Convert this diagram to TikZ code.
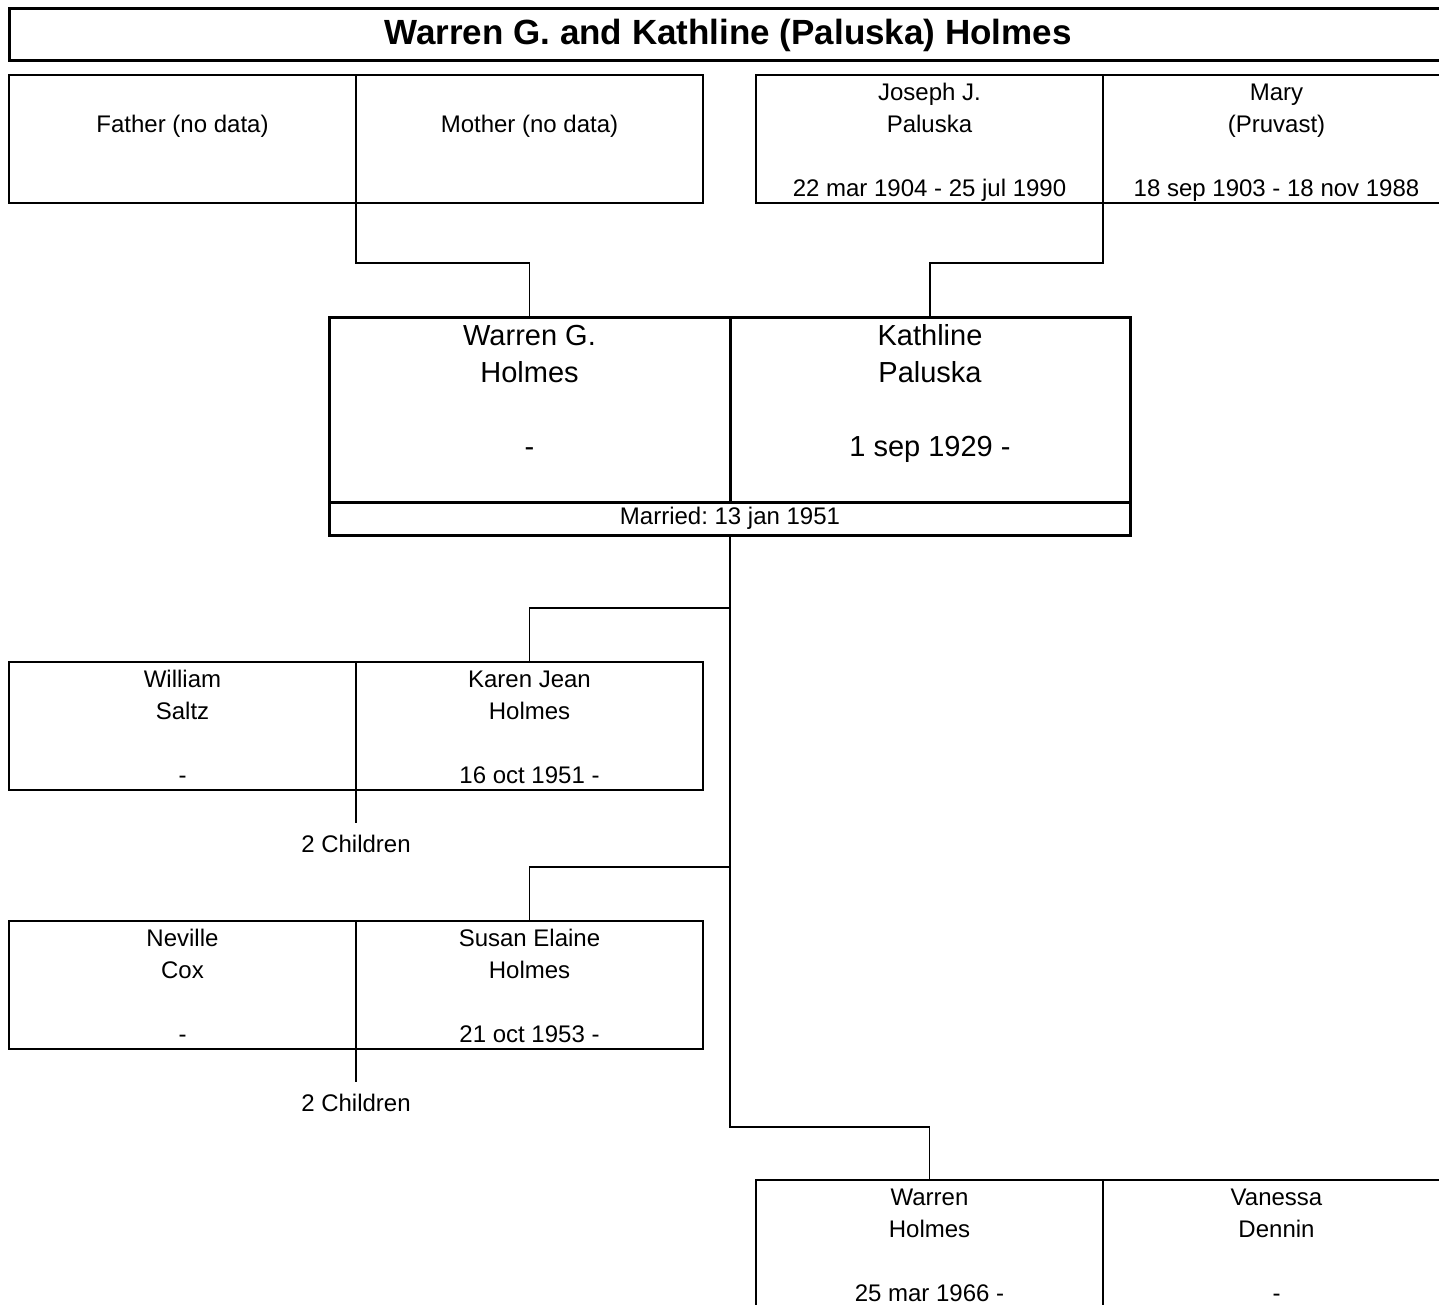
\documentclass[tikz,border=0pt]{standalone}
\usepackage{fontspec}
\setmainfont{Liberation Sans}
\usetikzlibrary{positioning}
\frenchspacing
\newcommand\upstrut{\rule[-.3\baselineskip]{0pt}{\dimexpr\baselineskip+1.5pt\relax}}
\newcommand\dnstrut{\rule[\dimexpr-.3\baselineskip+1.5pt\relax]{0pt}{\dimexpr\baselineskip-1.5pt\relax}}
\newcommand\who[3]{\upstrut#1\\\strut#2\\\strut\\\dnstrut#3}
\newcommand\whobig[3]{\upstrut#1\\\strut#2\\\strut\\\strut#3\\\dnstrut}
\begin{document}
\begin{tikzpicture}[x=0.5pt,y=-0.5pt,every node/.style={align=center,inner sep=0pt,outer sep=0pt},
person/.style={draw,line width=0.75pt,minimum width=173.5pt,minimum height=64pt,font=\fontsize{12}{16}\selectfont},
spouse/.style={draw,line width=1.5pt,minimum height=92.5pt,font=\fontsize{14.5}{18.5}\selectfont},
link/.style={line width=0.75pt},
kids/.style={below=6pt,font=\fontsize{12}{16}\selectfont}]
\useasboundingbox (0,0) rectangle (1439,1305);
\node[draw,line width=1.5pt,minimum width=719pt,minimum height=26pt,font=\bfseries\fontsize{17.5}{21}\selectfont] (title) at (728,35) {Warren G. and Kathline (Paluska) Holmes};
% parents
\node[person] (father) at (182.5,139) {\who{}{Father (no data)}{}};
\node[person,right=0pt of father] (mother) {\who{}{Mother (no data)}{}};
\node[person] (joseph) at (929.5,139) {\who{Joseph J.}{Paluska}{22 mar 1904 - 25 jul 1990}};
\node[person,right=0pt of joseph] (mary) {\who{Mary}{(Pruvast)}{18 sep 1903 - 18 nov 1988}};
% couple
\node[spouse,minimum width=200.5pt] (warren) at (529.5,409.5) {\whobig{Warren G.}{Holmes}{-}};
\node[spouse,minimum width=200pt,right=0pt of warren] (kathline) {\whobig{Kathline}{Paluska}{1 sep 1929 -}};
\node[draw,line width=1.5pt,minimum width=400.5pt,minimum height=16.5pt,font=\fontsize{12}{16}\selectfont,below=0pt of warren.south east] (married) {Married: 13 jan 1951};
% children
\node[person] (william) at (182.5,726) {\who{William}{Saltz}{-}};
\node[person,right=0pt of william] (karen) {\who{Karen Jean}{Holmes}{16 oct 1951 -}};
\node[person] (neville) at (182.5,985) {\who{Neville}{Cox}{-}};
\node[person,right=0pt of neville] (susan) {\who{Susan Elaine}{Holmes}{21 oct 1953 -}};
\node[person] (warrenjr) at (929.5,1244) {\who{Warren}{Holmes}{25 mar 1966 -}};
\node[person,right=0pt of warrenjr] (vanessa) {\who{Vanessa}{Dennin}{-}};
% lines
\draw[link] (father.south east) -- ++(0,60) -| (warren.north);
\draw[link] (joseph.south east) -- ++(0,60) -| (kathline.north);
\draw[link] (karen.north) -- ++(0,-54) -| (married.south);
\draw[link] (susan.north) -- ++(0,-54) -| (married.south);
\draw[link] (warrenjr.north) -- ++(0,-53) -| (married.south);
\draw[link] (william.south east) -- ++(0,33) node[kids] (kids1) {2 Children};
\draw[link] (neville.south east) -- ++(0,33) node[kids] (kids2) {2 Children};
\end{tikzpicture}
\end{document}
